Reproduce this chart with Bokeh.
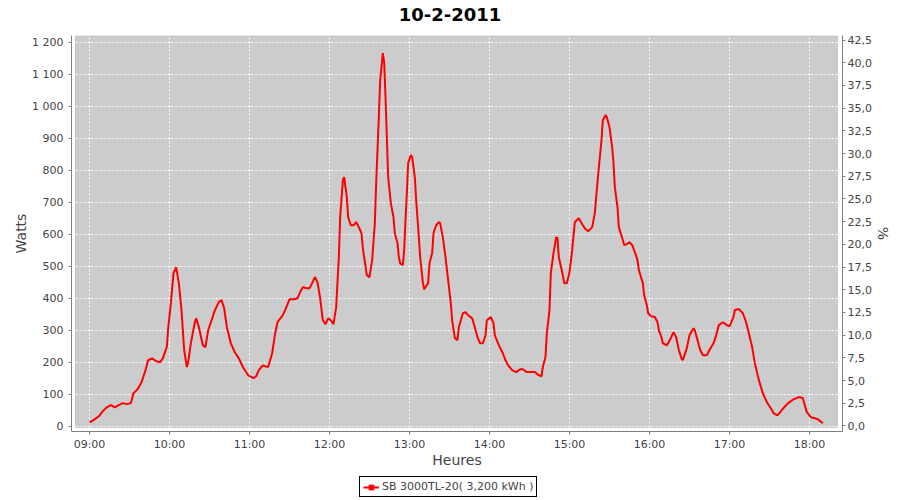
import pandas as pd
from bokeh.plotting import figure
from bokeh.layouts import column
from bokeh.core.properties import value
from bokeh.models import (Range1d, LinearAxis, FixedTicker, CustomJSTickFormatter,
                          DatetimeTickFormatter, BoxAnnotation, Legend, LegendItem,
                          ColumnDataSource)
from bokeh.embed import file_html
from bokeh.resources import INLINE

DAY = "2011-02-10"
TITLE = "10-2-2011"
SERIES = "SB 3000TL-20( 3,200 kWh )"

times = ["09:00", "09:03", "09:07", "09:10", "09:13", "09:16", "09:19", "09:22", "09:25", "09:28",
         "09:31", "09:33", "09:36", "09:39", "09:42", "09:44", "09:47", "09:50", "09:53", "09:55",
         "09:58", "09:59", "10:01", "10:03", "10:05", "10:07", "10:09", "10:11", "10:13", "10:14",
         "10:16", "10:19", "10:20", "10:22", "10:25", "10:27", "10:29", "10:32", "10:34", "10:37",
         "10:39", "10:41", "10:43", "10:46", "10:49", "10:52", "10:55", "10:59", "11:03", "11:05",
         "11:07", "11:10", "11:12", "11:14", "11:17", "11:19", "11:21", "11:25", "11:28", "11:30",
         "11:34", "11:36", "11:38", "11:40", "11:43", "11:45", "11:47", "11:49", "11:51", "11:53",
         "11:55", "11:57", "11:59", "12:01", "12:03", "12:05", "12:07", "12:08", "12:10", "12:11",
         "12:13", "12:14", "12:16", "12:18", "12:20", "12:22", "12:24", "12:25", "12:26", "12:28",
         "12:30", "12:32", "12:34", "12:35", "12:37", "12:38", "12:40", "12:41", "12:42", "12:43",
         "12:44", "12:46", "12:48", "12:49", "12:51", "12:52", "12:53", "12:55", "12:56", "12:57",
         "12:58", "12:59", "13:01", "13:02", "13:04", "13:05", "13:07", "13:08", "13:10", "13:11",
         "13:14", "13:15", "13:17", "13:18", "13:20", "13:22", "13:23", "13:25", "13:27", "13:29",
         "13:31", "13:32", "13:34", "13:36", "13:37", "13:40", "13:42", "13:44", "13:47", "13:49",
         "13:51", "13:53", "13:55", "13:57", "13:58", "14:01", "14:03", "14:04", "14:07", "14:10",
         "14:12", "14:14", "14:17", "14:20", "14:23", "14:25", "14:28", "14:32", "14:34", "14:37",
         "14:39", "14:40", "14:42", "14:43", "14:45", "14:46", "14:48", "14:50", "14:51", "14:52",
         "14:55", "14:56", "14:58", "15:00", "15:02", "15:04", "15:07", "15:10", "15:12", "15:14",
         "15:17", "15:19", "15:20", "15:22", "15:24", "15:25", "15:27", "15:28", "15:30", "15:32",
         "15:33", "15:34", "15:36", "15:37", "15:40", "15:41", "15:43", "15:45", "15:47", "15:49",
         "15:51", "15:52", "15:55", "15:56", "15:58", "15:59", "16:01", "16:04", "16:06", "16:07",
         "16:09", "16:10", "16:13", "16:16", "16:18", "16:20", "16:22", "16:24", "16:25", "16:28",
         "16:30", "16:33", "16:34", "16:36", "16:38", "16:40", "16:43", "16:45", "16:48", "16:50",
         "16:52", "16:55", "16:58", "17:00", "17:03", "17:04", "17:07", "17:10", "17:12", "17:14",
         "17:17", "17:19", "17:22", "17:25", "17:28", "17:31", "17:33", "17:36", "17:38", "17:41",
         "17:44", "17:48", "17:52", "17:55", "17:56", "17:58", "18:01", "18:04", "18:06", "18:08",
         "18:10"]

watts = [12, 19, 31, 47, 59, 66, 59, 66, 72, 69,
         72, 103, 115, 137, 175, 206, 212, 203, 200, 212,
         248, 306, 384, 478, 497, 447, 363, 238, 185, 200,
         259, 325, 337, 310, 253, 247, 300, 337, 362, 388,
         394, 369, 310, 259, 231, 212, 185, 159, 150, 156,
         175, 190, 187, 185, 228, 284, 325, 347, 375, 397,
         397, 400, 419, 434, 431, 431, 447, 466, 450, 400,
         331, 319, 337, 331, 319, 372, 528, 653, 769, 778,
         716, 653, 628, 628, 638, 622, 603, 556, 528, 472,
         466, 519, 634, 759, 966, 1081, 1166, 1138, 1028, 903,
         778, 697, 653, 603, 572, 528, 509, 503, 550, 644,
         728, 822, 847, 841, 778, 706, 591, 528, 450, 428,
         447, 509, 541, 603, 628, 638, 634, 591, 528, 456,
         384, 331, 275, 269, 309, 353, 356, 347, 337, 309,
         278, 259, 259, 284, 331, 341, 322, 284, 253, 228,
         206, 190, 175, 169, 178, 178, 169, 169, 169, 159,
         156, 185, 216, 291, 363, 478, 541, 591, 588, 528,
         472, 447, 447, 481, 550, 638, 650, 628, 616, 609,
         622, 666, 716, 809, 894, 956, 972, 966, 934, 872,
         822, 747, 684, 622, 581, 566, 569, 575, 566, 544,
         519, 488, 447, 409, 378, 353, 344, 341, 325, 300,
         278, 259, 253, 275, 294, 278, 238, 212, 206, 244,
         284, 306, 300, 269, 238, 222, 222, 238, 259, 284,
         316, 325, 316, 312, 341, 363, 366, 353, 331, 300,
         247, 197, 144, 103, 75, 56, 41, 34, 44, 59,
         72, 84, 91, 88, 72, 44, 28, 25, 22, 16,
         9]

hour_ticks = ["09:00", "10:00", "11:00", "12:00", "13:00", "14:00", "15:00", "16:00", "17:00", "18:00"]
watt_ticks = list(range(0, 1201, 100))
pct_ticks = [i * 2.5 for i in range(18)]

def ts(t):
    return pd.Timestamp(f"{DAY} {t}")

def ms(t):
    return ts(t).value / 1e6

x = [ts(t) for t in times]
src = ColumnDataSource(dict(x=x, y=watts))

FONT = "DejaVu Sans"
GRAY_TXT = "#444444"
AXIS_GRAY = "#808080"
RED = "#FF0000"
TOTAL_W = 892

def blank_fig(h):
    f = figure(width=TOTAL_W, height=h, output_backend="svg", toolbar_location=None,
               x_range=Range1d(0, 1), y_range=Range1d(0, 1), min_border=0,
               background_fill_color="white", border_fill_color="white")
    f.axis.visible = False
    f.grid.visible = False
    f.outline_line_color = None
    return f

# ---- title strip ----
tf = blank_fig(28)
tf.text(x=[0.5], y=[0.5], text=[TITLE], x_offset=-6.5,
        text_font=value(FONT), text_font_size=value("18px"), text_font_style="bold",
        text_color="black", text_align="center", text_baseline="middle")

# ---- main chart ----
p = figure(frame_width=771, frame_height=396, output_backend="svg", toolbar_location=None,
           x_axis_type="datetime",
           x_range=Range1d(ts("08:46:30"), ts("18:24:45")),
           y_range=Range1d(-16.6, 1221),
           min_border_left=71, min_border_right=50, min_border_top=7, min_border_bottom=42,
           background_fill_color="white", border_fill_color="white")
p.outline_line_color = None

box = BoxAnnotation(left=ts("08:49:30"), right=ts("18:21:00"), bottom=-4.1, top=1220.5,
                    fill_color="#CCCCCC", fill_alpha=1.0, line_color=AXIS_GRAY, line_width=1,
                    level="image")
p.add_layout(box)

p.xgrid.ticker = FixedTicker(ticks=[ms(t) for t in hour_ticks])
p.ygrid.ticker = FixedTicker(ticks=watt_ticks)
for g in (p.xgrid, p.ygrid):
    g.grid_line_color = "white"
    g.grid_line_dash = "2 2"
    g.grid_line_width = 1

p.line("x", "y", source=src, line_color=RED, line_width=2)

xa = p.xaxis[0]
xa.ticker = FixedTicker(ticks=[ms(t) for t in hour_ticks])
xa.formatter = DatetimeTickFormatter(hours="%H:%M", minutes="%H:%M", hourmin="%H:%M",
                                     days="%H:%M", minsec="%H:%M", seconds="%H:%M")
xa.axis_label = "Heures"

ya = p.yaxis[0]
ya.ticker = FixedTicker(ticks=watt_ticks)
ya.formatter = CustomJSTickFormatter(code="""
const s = Math.round(tick).toString();
return s.length > 3 ? s.slice(0, -3) + ' ' + s.slice(-3) : s;
""")
ya.axis_label = "Watts"

p.extra_y_ranges = {"pct": Range1d(-0.61, 43.0)}
ra = LinearAxis(y_range_name="pct", axis_label="%")
ra.ticker = FixedTicker(ticks=pct_ticks)
ra.formatter = CustomJSTickFormatter(code="return tick.toFixed(1).replace('.', ',');")
p.add_layout(ra, "right")

for ax in (xa, ya, ra):
    ax.axis_line_color = AXIS_GRAY
    ax.major_tick_line_color = AXIS_GRAY
    ax.major_tick_out = 3
    ax.major_tick_in = 0
    ax.minor_tick_line_color = None
    ax.major_label_text_font = FONT
    ax.major_label_text_font_size = "11px"
    ax.major_label_text_color = GRAY_TXT
    ax.axis_label_text_font = FONT
    ax.axis_label_text_font_size = "14px"
    ax.axis_label_text_font_style = "normal"
    ax.axis_label_text_color = GRAY_TXT
xa.major_label_standoff = 3
xa.axis_label_standoff = -2
ya.major_label_standoff = 5
ya.axis_label_standoff = 0
ra.major_label_standoff = 2
ra.axis_label_standoff = 0

# ---- legend strip (series proxies use the same source; data lies outside this strip's view) ----
lf = blank_fig(27)
lg_line = lf.line("x", "y", source=src, line_color=RED, line_width=2)
lg_mark = lf.scatter("x", "y", source=src, marker="square", size=4, color=RED)
legend = Legend(items=[LegendItem(label=SERIES, renderers=[lg_line, lg_mark])],
                location=(288, 3), orientation="horizontal",
                border_line_color="black", border_line_width=1, border_line_alpha=1.0,
                background_fill_color="white", background_fill_alpha=1.0,
                label_text_font=FONT, label_text_font_size="11px", label_text_color=GRAY_TXT,
                glyph_width=16, glyph_height=12, label_standoff=3, label_height=12,
                padding=3, spacing=0, margin=0)
lf.add_layout(legend)

layout = column(tf, p, lf, spacing=0)
open("out.html", "w").write(file_html(layout, INLINE))
